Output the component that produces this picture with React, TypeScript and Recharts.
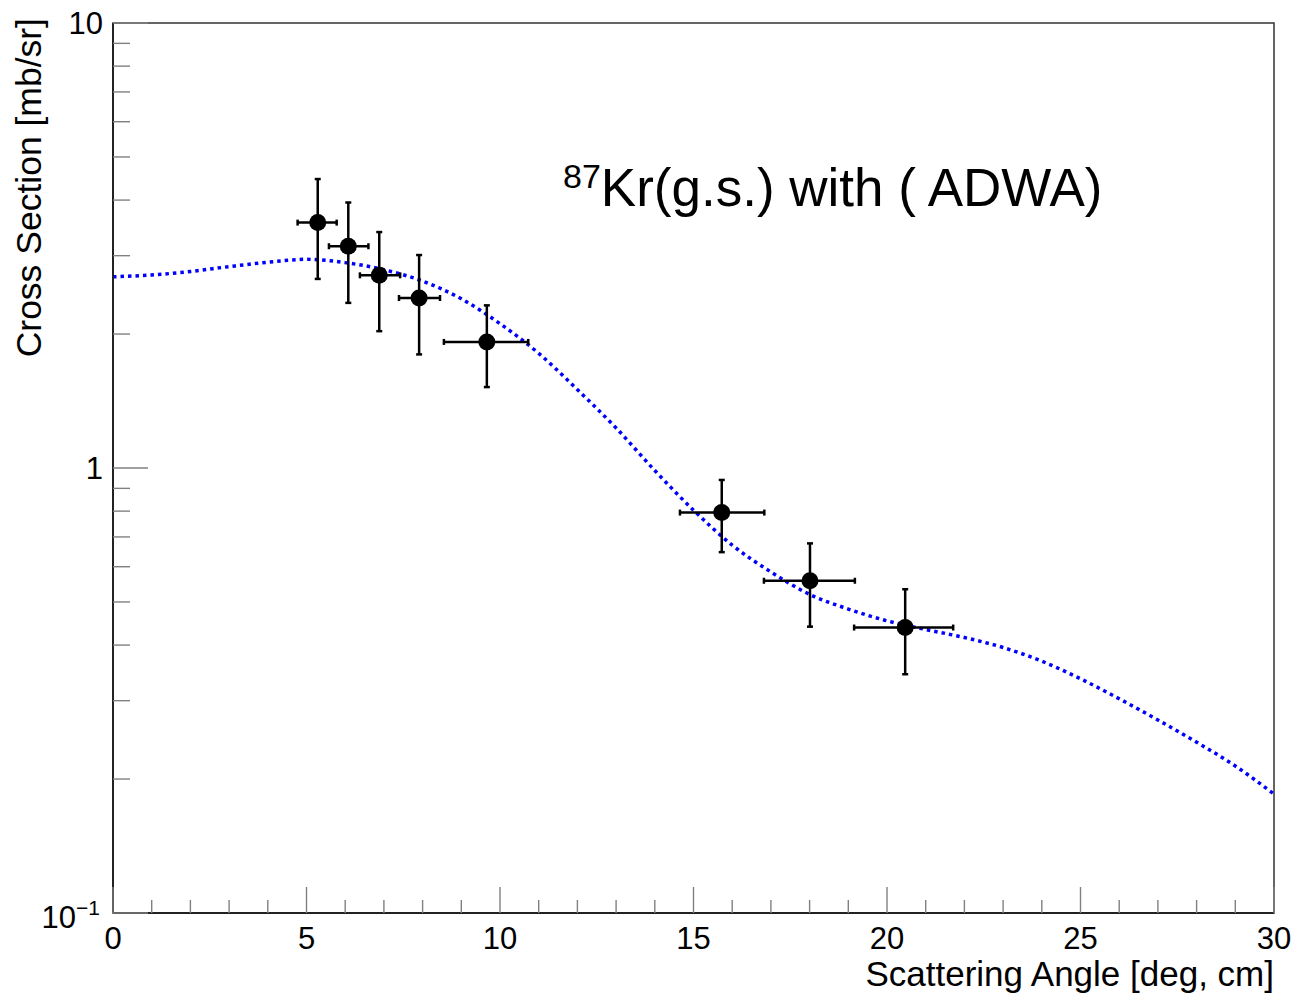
import React from 'react';
import {
  ComposedChart,
  ErrorBar,
  Label,
  Line,
  ReferenceArea,
  Scatter,
  XAxis,
  YAxis
} from 'recharts';

// theory curve (ADWA), sampled every degree
const curveAngle = [
  0, 1, 2, 3, 4, 5, 6, 7, 8, 9, 10, 11, 12, 13, 14, 15, 16, 17, 18, 19, 20, 21, 22, 23, 24, 25,
  26, 27, 28, 29, 30
];
const curveXs = [
  2.69, 2.715, 2.764, 2.835, 2.9, 2.944, 2.894, 2.79, 2.63, 2.4, 2.11, 1.81, 1.5, 1.23, 0.987,
  0.804, 0.671, 0.584, 0.52, 0.482, 0.4535, 0.4336, 0.416, 0.395, 0.368, 0.336, 0.303, 0.2715,
  0.242, 0.214, 0.185
];

// measured points
const ptAngle = [5.29, 6.08, 6.88, 7.91, 9.66, 15.73, 18.01, 20.47];
const ptAngleLo = [4.77, 5.58, 6.38, 7.39, 8.55, 14.65, 16.82, 19.15];
const ptAngleHi = [5.78, 6.6, 7.42, 8.45, 10.73, 16.83, 19.17, 21.71];
const ptXs = [3.56, 3.15, 2.71, 2.41, 1.92, 0.794, 0.558, 0.438];
const ptXsLo = [2.66, 2.35, 2.03, 1.8, 1.52, 0.647, 0.44, 0.344];
const ptXsHi = [4.46, 3.95, 3.39, 3.01, 2.32, 0.94, 0.677, 0.534];

const xTicks = Array.from({ length: 31 }, (_, i) => i);
const yTicks = [
  0.1, 0.2, 0.3, 0.4, 0.5, 0.6, 0.7, 0.8, 0.9, 1, 2, 3, 4, 5, 6, 7, 8, 9, 10
];

const curveData = curveAngle.map((x, i) => ({ x, cs: curveXs[i] }));
const pointData = ptAngle.map((x, i) => ({
  x,
  cs: ptXs[i],
  ex: [x - ptAngleLo[i], ptAngleHi[i] - x],
  ey: [ptXs[i] - ptXsLo[i], ptXsHi[i] - ptXs[i]]
}));

const FONT = '"Liberation Sans", Arial, Helvetica, sans-serif';
const TICK_COLOR = '#808080';

function XTick(props: any) {
  const { x, y, payload } = props;
  const v = payload.value as number;
  const major = v % 5 === 0;
  return (
    <g>
      <line x1={x} y1={y} x2={x} y2={y - (major ? 26 : 13)} stroke={TICK_COLOR} strokeWidth={1.4} />
      {major ? (
        <text x={x} y={y + 36} textAnchor="middle" fontSize={31} fontFamily={FONT} fill="#000">
          {v}
        </text>
      ) : null}
    </g>
  );
}

function YTick(props: any) {
  const { x, y, payload } = props;
  const v = payload.value as number;
  const lg = Math.log10(v);
  const major = Math.abs(lg - Math.round(lg)) < 1e-6;
  let label: React.ReactNode = null;
  if (major) {
    if (v >= 1) {
      label = (
        <text x={x - 10} y={y + 11} textAnchor="end" fontSize={31} fontFamily={FONT} fill="#000">
          {v}
        </text>
      );
    } else {
      label = (
        <text x={x - 13} y={y + 15} textAnchor="end" fontSize={31} fontFamily={FONT} fill="#000">
          10
          <tspan fontSize={21} dy={-13}>
            {'\u2212' + Math.abs(Math.round(lg))}
          </tspan>
        </text>
      );
    }
  }
  return (
    <g>
      <line x1={x} y1={y} x2={x + (major ? 35 : 17)} y2={y} stroke={TICK_COLOR} strokeWidth={1.4} />
      {label}
    </g>
  );
}

function Dot(props: any) {
  const { cx, cy } = props;
  return <circle cx={cx} cy={cy} r={8.5} fill="#000" />;
}

export default function App() {
  return (
    <div style={{ position: 'absolute', left: 0, top: 0, width: 1294, height: 993, background: '#fff' }}>
      <ComposedChart
        width={1294}
        height={993}
        margin={{ top: 23, right: 20, bottom: 0, left: 0 }}
      >
        <XAxis
          type="number"
          dataKey="x"
          domain={[0, 30]}
          ticks={xTicks}
          interval={0}
          height={80}
          tickSize={0}
          tickMargin={0}
          tick={<XTick />}
          axisLine={{ stroke: '#222', strokeWidth: 2 }}
          allowDataOverflow
        >
          <Label
            content={({ viewBox }: any) => (
              <text
                x={viewBox.x + viewBox.width}
                y={viewBox.y + viewBox.height - 7}
                textAnchor="end"
                fontSize={35}
                fontFamily={FONT}
                fill="#000"
              >
                Scattering Angle [deg, cm]
              </text>
            )}
          />
        </XAxis>
        <YAxis
          type="number"
          scale="log"
          domain={[0.1, 10]}
          ticks={yTicks}
          interval={0}
          width={113}
          tickSize={0}
          tickMargin={0}
          tick={<YTick />}
          axisLine={{ stroke: '#222', strokeWidth: 2 }}
          allowDataOverflow
        >
          <Label
            content={({ viewBox }: any) => {
              const lx = viewBox.x + 41;
              const ly = viewBox.y - 5;
              return (
                <text
                  x={lx}
                  y={ly}
                  transform={`rotate(-90, ${lx}, ${ly})`}
                  textAnchor="end"
                  fontSize={35.5}
                  fontFamily={FONT}
                  fill="#000"
                >
                  Cross Section [mb/sr]
                </text>
              );
            }}
          />
        </YAxis>
        <ReferenceArea
          x1={0}
          x2={30}
          y1={0.1}
          y2={10}
          fill="none"
          stroke="#333"
          strokeWidth={1.5}
          ifOverflow="visible"
        />
        <Line
          data={curveData}
          dataKey="cs"
          type="monotone"
          stroke="#0000ff"
          strokeWidth={3.5}
          strokeDasharray="3.5 4"
          dot={false}
          activeDot={false}
          isAnimationActive={false}
        />
        <Scatter data={pointData} dataKey="cs" shape={<Dot />} isAnimationActive={false}>
          <ErrorBar dataKey="ex" direction="x" width={3} strokeWidth={2.5} stroke="#000" isAnimationActive={false} />
          <ErrorBar dataKey="ey" direction="y" width={3} strokeWidth={2.5} stroke="#000" isAnimationActive={false} />
        </Scatter>
      </ComposedChart>
      <div
        style={{
          position: 'absolute',
          left: 563,
          top: 161,
          fontFamily: FONT,
          fontSize: 53,
          lineHeight: '53px',
          whiteSpace: 'nowrap',
          color: '#000'
        }}
      >
        <span style={{ fontSize: 34, position: 'relative', top: -18 }}>87</span>
        Kr(g.s.) with ( ADWA)
      </div>
    </div>
  );
}
